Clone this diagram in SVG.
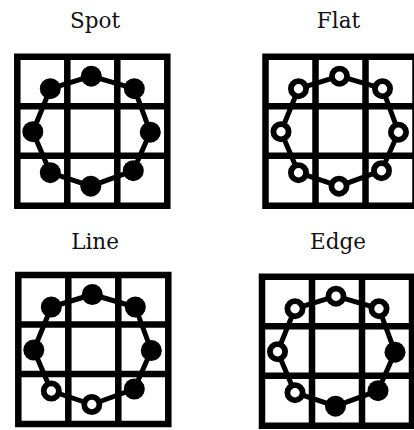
<svg xmlns="http://www.w3.org/2000/svg" width="414" height="430" viewBox="0 0 414 430">
<style>
.bg{fill:#fff}
.grid{fill:none;stroke:#000;stroke-width:6.5;stroke-linejoin:miter;stroke-linecap:square}
.ring{fill:none;stroke:#000;stroke-width:5;stroke-linejoin:round}
.on{fill:#000}
.off{fill:#fff;stroke:#000;stroke-width:5.8}
.lbl{font-family:"DejaVu Serif","Liberation Serif",serif;font-size:21.5px;fill:#111;text-anchor:middle}
</style>
<defs>
<path id="grid" class="grid" d="M0,0H150V149H0Z M50,0V149 M100,0V149 M0,49.5H150 M0,99H150"/>
<polygon id="ring" class="ring" points="74,19.5 117,32 133,75.5 116,114 73.5,129.5 33,116 15.5,75 33,32"/>
</defs>
<rect class="bg" x="0" y="0" width="414" height="430"/>
<g id="spot">
<text class="lbl" x="95" y="28">Spot</text>
<g transform="translate(17.3,56.7)">
<use href="#grid"/>
<use href="#ring"/>
<circle class="on" cx="74" cy="19.5" r="10.5"/>
<circle class="on" cx="117" cy="32" r="10.5"/>
<circle class="on" cx="133" cy="75.5" r="10.5"/>
<circle class="on" cx="116" cy="114" r="10.5"/>
<circle class="on" cx="73.5" cy="129.5" r="10.5"/>
<circle class="on" cx="33" cy="116" r="10.5"/>
<circle class="on" cx="15.5" cy="75" r="10.5"/>
<circle class="on" cx="33" cy="32" r="10.5"/>
</g>
</g>
<g id="flat">
<text class="lbl" x="338.5" y="28">Flat</text>
<g transform="translate(265.5,56.7)">
<use href="#grid"/>
<use href="#ring"/>
<circle class="off" cx="74" cy="19.5" r="7.6"/>
<circle class="off" cx="117" cy="32" r="7.6"/>
<circle class="off" cx="133" cy="75.5" r="7.6"/>
<circle class="off" cx="116" cy="114" r="7.6"/>
<circle class="off" cx="73.5" cy="129.5" r="7.6"/>
<circle class="off" cx="33" cy="116" r="7.6"/>
<circle class="off" cx="15.5" cy="75" r="7.6"/>
<circle class="off" cx="33" cy="32" r="7.6"/>
</g>
</g>
<g id="line">
<text class="lbl" x="95" y="248.5">Line</text>
<g transform="translate(18.3,275)">
<use href="#grid"/>
<use href="#ring"/>
<circle class="on" cx="74" cy="19.5" r="10.5"/>
<circle class="on" cx="117" cy="32" r="10.5"/>
<circle class="on" cx="133" cy="75.5" r="10.5"/>
<circle class="on" cx="116" cy="114" r="10.5"/>
<circle class="off" cx="73.5" cy="129.5" r="7.6"/>
<circle class="off" cx="33" cy="116" r="7.6"/>
<circle class="on" cx="15.5" cy="75" r="10.5"/>
<circle class="on" cx="33" cy="32" r="10.5"/>
</g>
</g>
<g id="edge">
<text class="lbl" x="338" y="249">Edge</text>
<g transform="translate(262,276.7)">
<use href="#grid"/>
<use href="#ring"/>
<circle class="off" cx="74" cy="19.5" r="7.6"/>
<circle class="off" cx="117" cy="32" r="7.6"/>
<circle class="on" cx="133" cy="75.5" r="10.5"/>
<circle class="on" cx="116" cy="114" r="10.5"/>
<circle class="on" cx="73.5" cy="129.5" r="10.5"/>
<circle class="off" cx="33" cy="116" r="7.6"/>
<circle class="off" cx="15.5" cy="75" r="7.6"/>
<circle class="off" cx="33" cy="32" r="7.6"/>
</g>
</g>
</svg>
